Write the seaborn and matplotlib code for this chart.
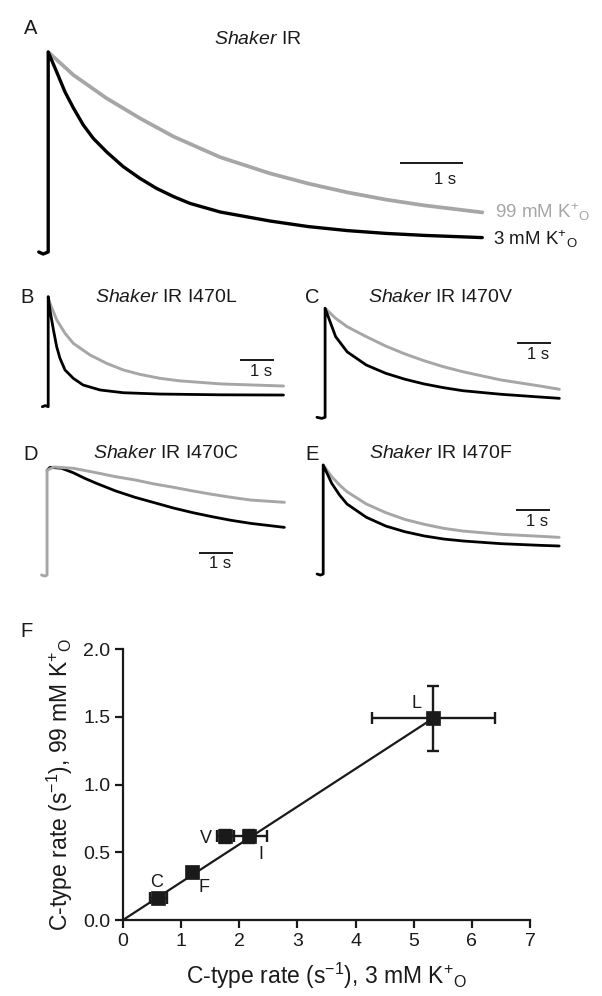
import matplotlib
matplotlib.use("Agg")
import matplotlib.pyplot as plt
import seaborn as sns

# ---------------- data ----------------
# Panel A  (time in s, current normalised to peak)
a_t_black = [-0.15, -0.08, 0.0, 0.0, 0.135, 0.267, 0.40, 0.557, 0.716, 0.929, 1.19, 1.457, 1.72, 1.99, 2.25, 2.73, 3.52, 4.13, 4.75, 5.36, 5.97, 6.89]
a_i_black = [0.0, -0.01, 0.0, 1.0, 0.90, 0.80, 0.72, 0.635, 0.568, 0.50, 0.427, 0.368, 0.318, 0.277, 0.243, 0.20, 0.155, 0.127, 0.107, 0.093, 0.083, 0.072]
a_t_gray = [0.0, 0.40, 0.93, 1.46, 1.99, 2.73, 3.52, 4.13, 4.75, 5.36, 5.97, 6.89]
a_i_gray = [1.0, 0.885, 0.768, 0.668, 0.577, 0.474, 0.393, 0.342, 0.298, 0.262, 0.233, 0.198]

# Panel B  (I470L)
b_t_black = [-0.17, -0.08, 0.0, 0.0, 0.05, 0.15, 0.245, 0.34, 0.486, 0.725, 1.01, 1.5, 2.17, 3.23, 5.0, 6.80]
b_i_black = [0.0, 0.01, 0.0, 1.0, 0.88, 0.70, 0.545, 0.44, 0.334, 0.258, 0.197, 0.152, 0.127, 0.115, 0.108, 0.106]
b_t_gray = [0.0, 0.05, 0.245, 0.486, 0.725, 1.21, 1.69, 2.17, 2.65, 3.23, 3.8, 5.0, 6.80]
b_i_gray = [1.0, 0.94, 0.79, 0.667, 0.576, 0.47, 0.394, 0.334, 0.294, 0.258, 0.235, 0.207, 0.188]

# Panel C  (I470V)
c_t_black = [-0.24, -0.10, 0.0, 0.0, 0.31, 0.65, 1.21, 1.78, 2.35, 2.91, 3.48, 4.05, 5.18, 6.32, 6.89]
c_i_black = [0.0, -0.01, 0.0, 1.0, 0.74, 0.60, 0.48, 0.404, 0.349, 0.306, 0.272, 0.244, 0.211, 0.186, 0.174]
c_t_gray = [0.0, 0.31, 0.65, 1.21, 1.78, 2.35, 2.91, 3.48, 4.05, 5.18, 6.32, 6.89]
c_i_gray = [1.0, 0.908, 0.831, 0.74, 0.654, 0.581, 0.519, 0.464, 0.418, 0.342, 0.287, 0.257]

# Panel D  (I470C)
d_t_gray = [-0.16, -0.06, 0.0, 0.0, 0.2, 0.77, 1.45, 2.02, 2.59, 3.15, 3.72, 4.29, 4.85, 5.42, 5.99, 6.98]
d_i_gray = [0.0, -0.01, 0.0, 0.97, 1.0, 0.988, 0.947, 0.91, 0.88, 0.843, 0.812, 0.778, 0.747, 0.719, 0.694, 0.673]
d_t_black = [0.0, 0.09, 0.43, 0.77, 1.11, 1.45, 2.02, 2.59, 3.15, 3.72, 4.29, 4.85, 5.42, 5.99, 6.98]
d_i_black = [0.97, 0.997, 0.988, 0.947, 0.895, 0.849, 0.778, 0.719, 0.670, 0.620, 0.577, 0.540, 0.506, 0.478, 0.441]

# Panel E  (I470F)
e_t_black = [-0.18, -0.08, 0.0, 0.0, 0.25, 0.48, 0.70, 1.27, 1.84, 2.40, 2.97, 3.54, 4.11, 5.24, 6.37, 6.94]
e_i_black = [0.0, -0.01, 0.0, 1.0, 0.832, 0.725, 0.642, 0.52, 0.44, 0.388, 0.349, 0.321, 0.303, 0.278, 0.263, 0.257]
e_t_gray = [0.0, 0.25, 0.48, 0.70, 1.27, 1.84, 2.40, 2.97, 3.54, 4.11, 5.24, 6.37, 6.94]
e_i_gray = [1.0, 0.893, 0.817, 0.755, 0.642, 0.563, 0.501, 0.456, 0.419, 0.394, 0.364, 0.346, 0.336]

# Panel F
mutants = ["C", "F", "V", "I", "L"]
rate_3mM = [0.61, 1.18, 1.76, 2.16, 5.34]
rate_99mM = [0.164, 0.355, 0.617, 0.617, 1.49]
err_3mM = [0.14, 0.06, 0.15, 0.32, 1.06]
err_99mM = [0.02, 0.02, 0.05, 0.05, 0.24]
fit_x = [0.0, 5.34]
fit_y = [0.0, 1.49]

# ---------------- style ----------------
sns.set_theme(style="ticks")
plt.rcParams["font.family"] = ["Liberation Sans", "DejaVu Sans"]
plt.rcParams["mathtext.fontset"] = "custom"
plt.rcParams["mathtext.rm"] = "Liberation Sans"
plt.rcParams["mathtext.it"] = "Liberation Sans:italic"
plt.rcParams["mathtext.bf"] = "Liberation Sans:bold"
plt.rcParams["text.color"] = "k"
plt.rcParams["axes.labelcolor"] = "k"
plt.rcParams["xtick.color"] = "k"
plt.rcParams["ytick.color"] = "k"

BLACK = "#000000"
GRAY = "#a6a6a6"
W, H = 602, 996
fig = plt.figure(figsize=(W / 100, H / 100), dpi=100)


def px_axes(L, T, R, B):
    return fig.add_axes([L / W, 1 - B / H, (R - L) / W, (B - T) / H])


def trace_panel(L, T, R, B, x0, pps, yb, amp):
    ax = px_axes(L, T, R, B)
    ax.set_xlim((L - x0) / pps, (R - x0) / pps)
    ax.set_ylim((yb - B) / amp, (yb - T) / amp)
    ax.axis("off")
    return ax


def draw(ax, t, i, color, lw):
    sns.lineplot(x=t, y=i, ax=ax, color=color, lw=lw, estimator=None,
                 sort=False, legend=False)


def scalebar(ax, t0, y0, lw=1.4):
    ax.plot([t0, t0 + 1.0], [y0, y0], color="k", lw=lw, solid_capstyle="butt")


def ftext(x, y, s, size, ha="left", color="k", **kw):
    fig.text(x / W, 1 - y / H, s, fontsize=size, ha=ha, va="baseline", color=color, **kw)


KO = r"$\mathrm{K}^{+}{}_{\mathrm{O}}$"
LET = 14.5
TIT = 14

# ---------- Panel A ----------
axA = trace_panel(30, 40, 490, 265, 48.2, 63.0, 252.0, 200.0)
draw(axA, a_t_gray, a_i_gray, GRAY, 2.7)
draw(axA, a_t_black, a_i_black, BLACK, 2.4)
scalebar(axA, 5.59, 0.447)
ftext(24, 33.5, "A", LET)
ftext(258, 43.5, r"$\mathit{Shaker}$ IR", TIT, ha="center")
ftext(445.5, 184, "1 s", 12, ha="center")
ftext(495, 218, "99 mM " + KO, 13.5, color=GRAY)
ftext(493, 245, "3 mM " + KO, 13.5)

# ---------- Panel B ----------
axB = trace_panel(30, 290, 295, 415, 48.2, 34.6, 406.7, 110.0)
draw(axB, b_t_gray, b_i_gray, GRAY, 2.1)
draw(axB, b_t_black, b_i_black, BLACK, 2.0)
scalebar(axB, 5.54, 0.425)
ftext(20, 302.7, "B", LET)
ftext(166, 301.7, r"$\mathit{Shaker}$ IR I470L", TIT, ha="center")
ftext(261, 376, "1 s", 12, ha="center")

# ---------- Panel C ----------
axC = trace_panel(305, 300, 570, 425, 325.1, 34.0, 417.3, 109.0)
draw(axC, c_t_gray, c_i_gray, GRAY, 2.1)
draw(axC, c_t_black, c_i_black, BLACK, 2.0)
scalebar(axC, 5.64, 0.684)
ftext(305.5, 303, "C", LET)
ftext(440.5, 301.7, r"$\mathit{Shaker}$ IR I470V", TIT, ha="center")
ftext(538, 359, "1 s", 12, ha="center")

# ---------- Panel D ----------
axD = trace_panel(30, 455, 295, 585, 47.05, 34.0, 575.0, 108.0)
draw(axD, d_t_black, d_i_black, BLACK, 2.0)
draw(axD, d_t_gray, d_i_gray, GRAY, 2.1)
scalebar(axD, 4.48, 0.206)
ftext(23, 460, "D", LET)
ftext(166, 458, r"$\mathit{Shaker}$ IR I470C", TIT, ha="center")
ftext(220, 568, "1 s", 12, ha="center")

# ---------- Panel E ----------
axE = trace_panel(305, 455, 570, 585, 323.2, 34.0, 574.0, 109.0)
draw(axE, e_t_gray, e_i_gray, GRAY, 2.1)
draw(axE, e_t_black, e_i_black, BLACK, 2.0)
scalebar(axE, 5.66, 0.587)
ftext(305, 460, "E", LET)
ftext(440.5, 458, r"$\mathit{Shaker}$ IR I470F", TIT, ha="center")
ftext(536.8, 526, "1 s", 12, ha="center")

# ---------- Panel F ----------
axF = px_axes(123, 649, 530, 920)
sns.lineplot(x=fit_x, y=fit_y, ax=axF, color="k", lw=1.6, estimator=None, sort=False, legend=False)
axF.errorbar(rate_3mM, rate_99mM, xerr=err_3mM, yerr=err_99mM, fmt="none",
             ecolor="k", elinewidth=1.7, capsize=4.5, capthick=1.7, zorder=3)
sns.scatterplot(x=rate_3mM, y=rate_99mM, ax=axF, marker="s", s=105, color="k",
                edgecolor="k", linewidth=0.5, zorder=4, legend=False)
label_pos = {"C": (0.573, 0.274), "F": (1.40, 0.237), "V": (1.43, 0.605),
             "I": (2.37, 0.482), "L": (5.04, 1.596)}
for m in mutants:
    lx, ly = label_pos[m]
    axF.text(lx, ly, m, fontsize=13, ha="center", va="center")
axF.set_xlim(0, 7)
axF.set_ylim(0, 2.0)
axF.set_xticks(range(0, 8))
axF.set_yticks([0.0, 0.5, 1.0, 1.5, 2.0])
axF.set_yticklabels(["0.0", "0.5", "1.0", "1.5", "2.0"])
for side in ("top", "right"):
    axF.spines[side].set_visible(False)
for side in ("left", "bottom"):
    axF.spines[side].set_linewidth(1.6)
    axF.spines[side].set_color("k")
axF.tick_params(axis="both", direction="out", length=6, width=1.6, color="k",
                labelsize=14, pad=3, labelcolor="k")
axF.set_xlabel(r"C-type rate ($\mathrm{s}^{-1}$), 3 mM " + KO, fontsize=16.5, labelpad=8)
axF.set_ylabel(r"C-type rate ($\mathrm{s}^{-1}$), 99 mM " + KO, fontsize=16.5, labelpad=6)
axF.patch.set_alpha(0)
ftext(20, 636.7, "F", LET)

fig.savefig("out.png", dpi=100)
